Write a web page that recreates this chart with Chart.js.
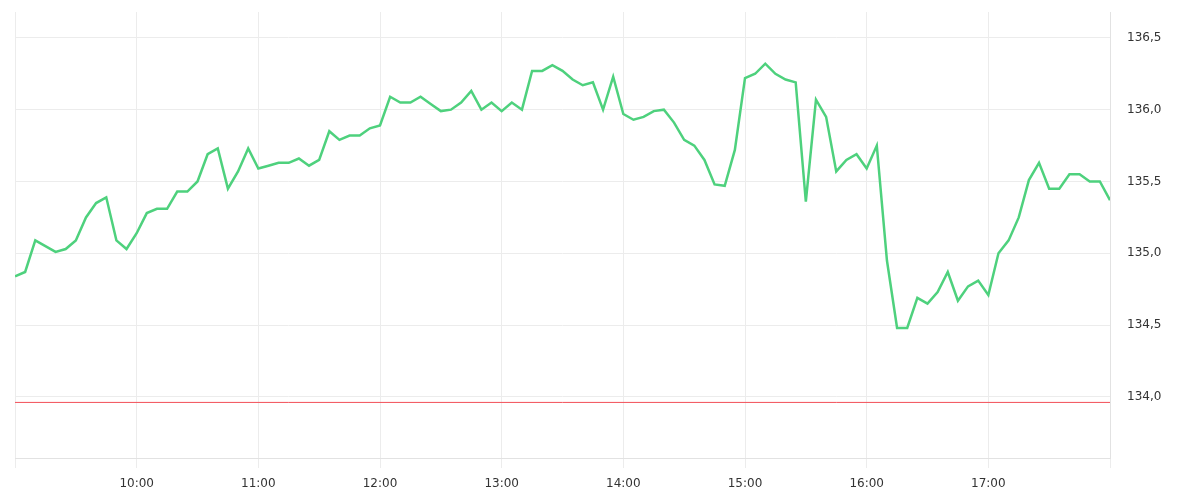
<!DOCTYPE html>
<html lang="en">
<head>
  <meta charset="UTF-8">
  <title>Intraday price</title>
  <script src="https://cdn.jsdelivr.net/npm/chart.js"></script>
  <style>
    body { margin: 0; background: #fff; }
    #wrap { width: 1200px; height: 500px; }
  </style>
</head>
<body>
  <div id="wrap"><canvas id="myChart" width="1200" height="500"></canvas></div>

  <script>
    // 5-minute bars, 09:00 - 18:00
    const times = [
      '09:00','09:05','09:10','09:15','09:20','09:25','09:30','09:35','09:40','09:45','09:50','09:55',
      '10:00','10:05','10:10','10:15','10:20','10:25','10:30','10:35','10:40','10:45','10:50','10:55',
      '11:00','11:05','11:10','11:15','11:20','11:25','11:30','11:35','11:40','11:45','11:50','11:55',
      '12:00','12:05','12:10','12:15','12:20','12:25','12:30','12:35','12:40','12:45','12:50','12:55',
      '13:00','13:05','13:10','13:15','13:20','13:25','13:30','13:35','13:40','13:45','13:50','13:55',
      '14:00','14:05','14:10','14:15','14:20','14:25','14:30','14:35','14:40','14:45','14:50','14:55',
      '15:00','15:05','15:10','15:15','15:20','15:25','15:30','15:35','15:40','15:45','15:50','15:55',
      '16:00','16:05','16:10','16:15','16:20','16:25','16:30','16:35','16:40','16:45','16:50','16:55',
      '17:00','17:05','17:10','17:15','17:20','17:25','17:30','17:35','17:40','17:45','17:50','17:55',
      '18:00'
    ];

    const prices = [
      134.84, 134.87, 135.09, 135.05, 135.01, 135.03, 135.09, 135.25, 135.35, 135.39, 135.09, 135.03,
      135.14, 135.28, 135.31, 135.31, 135.43, 135.43, 135.50, 135.69, 135.73, 135.45, 135.57, 135.73,
      135.59, 135.61, 135.63, 135.63, 135.66, 135.61, 135.65, 135.85, 135.79, 135.82, 135.82, 135.87,
      135.89, 136.09, 136.05, 136.05, 136.09, 136.04, 135.99, 136.00, 136.05, 136.13, 136.00, 136.05,
      135.99, 136.05, 136.00, 136.27, 136.27, 136.31, 136.27, 136.21, 136.17, 136.19, 136.00, 136.23,
      135.97, 135.93, 135.95, 135.99, 136.00, 135.91, 135.79, 135.75, 135.65, 135.48, 135.47, 135.72,
      136.22, 136.25, 136.32, 136.25, 136.21, 136.19, 135.36, 136.07, 135.95, 135.57, 135.65, 135.69,
      135.59, 135.75, 134.95, 134.48, 134.48, 134.69, 134.65, 134.73, 134.87, 134.67, 134.77, 134.81,
      134.71, 135.00, 135.09, 135.25, 135.51, 135.63, 135.45, 135.45, 135.55, 135.55, 135.50, 135.50,
      135.37
    ];

    const refLevel = 133.962;   // red reference line
    const yTicks = [134.0, 134.5, 135.0, 135.5, 136.0, 136.5];

    const toMin = t => {
      const [h, m] = t.split(':').map(Number);
      return h * 60 + m;
    };
    const fmtTime = v => {
      const h = Math.floor(v / 60), m = v % 60;
      return String(h).padStart(2, '0') + ':' + String(m).padStart(2, '0');
    };

    const startX = toMin(times[0]);
    const endX = toMin(times[times.length - 1]);

    const ctx = document.getElementById('myChart').getContext('2d');
    new Chart(ctx, {
      type: 'line',
      data: {
        datasets: [
          {
            label: 'price',
            data: times.map((t, i) => ({ x: toMin(t), y: prices[i] })),
            borderColor: '#4ed17d',
            borderWidth: 2.5,
            pointRadius: 0,
            tension: 0,
            fill: false
          },
          {
            label: 'ref',
            data: [{ x: startX, y: refLevel }, { x: endX, y: refLevel }],
            borderColor: '#f24f57',
            backgroundColor: '#f24f57',
            borderWidth: 1,
            pointRadius: 0,
            tension: 0,
            fill: false
          }
        ]
      },
      options: {
        responsive: false,
        animation: false,
        layout: { padding: { left: 15, top: 12, right: 0, bottom: 0 } },
        plugins: { legend: { display: false }, tooltip: { enabled: false } },
        scales: {
          x: {
            type: 'linear',
            min: startX,
            max: endX,
            grid: { color: '#ececec', tickLength: 10 },
            border: { color: '#e2e2e2' },
            ticks: {
              stepSize: 60,
              padding: 9,
              color: '#333',
              font: { family: 'DejaVu Sans', size: 12 },
              maxRotation: 0,
              callback: v => (v === startX || v === endX) ? '' : fmtTime(v)
            },
            afterFit: s => { s.height = 42; }
          },
          y: {
            position: 'right',
            min: 133.575,
            max: 136.68,
            // invisible tick marks push the labels away from the axis line
            grid: { color: '#ececec', drawTicks: true, tickLength: 17, tickColor: 'rgba(0,0,0,0)' },
            border: { color: '#e2e2e2' },
            afterBuildTicks: s => { s.ticks = yTicks.map(v => ({ value: v })); },
            ticks: {
              padding: 0,
              color: '#333',
              font: { family: 'DejaVu Sans', size: 12 },
              callback: v => v.toFixed(1).replace('.', ',')
            },
            afterFit: s => { s.width = 90; }
          }
        }
      }
    });
  </script>
</body>
</html>
